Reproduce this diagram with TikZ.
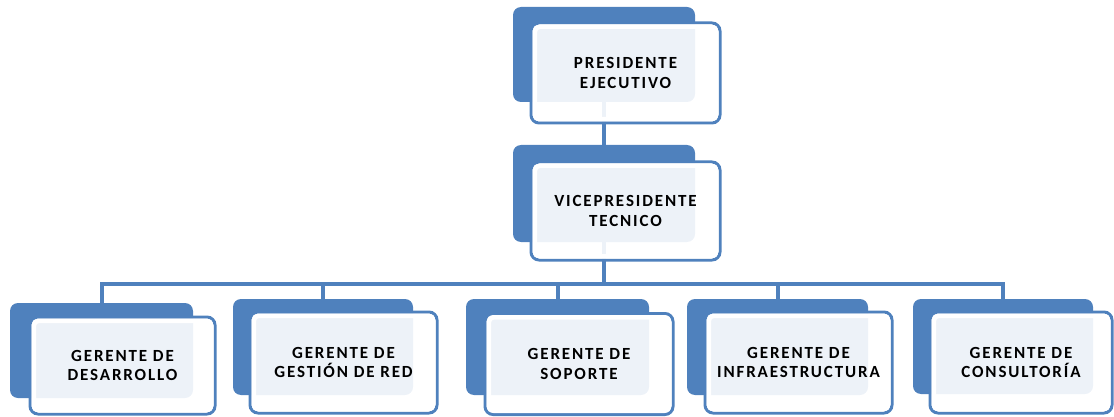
\documentclass[tikz,border=0pt]{standalone}
\usepackage{fontspec}
\setmainfont{Carlito}
\newfontfamily\lblfont[LetterSpace=11]{Carlito}
\definecolor{orgblue}{RGB}{79,129,189}
\tikzset{
  back/.style={fill=orgblue, draw=none, rounded corners=8pt, inner sep=0pt},
  front/.style={fill=white, fill opacity=0.9, text opacity=1, draw=orgblue, line width=3pt,
    rounded corners=8pt, inner sep=0pt, align=center,
    font=\lblfont\fontsize{17}{19.5}\selectfont\bfseries},
  rim/.style={draw=white, line width=4.5pt, rounded corners=5pt, inner sep=0pt},
  conn/.style={draw=orgblue, line width=4pt},
}
\newcommand{\orgbox}[6]{%
  \node[front, minimum width=#4pt, minimum height=#5pt] (#1) at (#2,#3) {#6};
  \node[rim, minimum width=#4pt-7.5pt, minimum height=#5pt-7.5pt] (#1rim) at (#2,#3) {};
}
\begin{document}
\begin{tikzpicture}[x=1pt,y=1pt]
\useasboundingbox (0,0) rectangle (1114,-417);
% back boxes
\node[back, minimum width=182pt, minimum height=95pt] (pB) at (604,-54.5) {};
\node[back, minimum width=182pt, minimum height=97pt] (vB) at (604,-193.5) {};
\node[back, minimum width=183pt, minimum height=95pt] (b1) at (101.5,-350.5) {};
\node[back, minimum width=180pt, minimum height=96pt] (b2) at (323,-347) {};
\node[back, minimum width=183pt, minimum height=96pt] (b3) at (557.5,-347) {};
\node[back, minimum width=181pt, minimum height=96pt] (b4) at (777.5,-347) {};
\node[back, minimum width=180pt, minimum height=95pt] (b5) at (1003,-346.5) {};
% connectors
\coordinate (bus) at (604,-284);
\draw[conn] (pB.south) -- (vB.north);
\draw[conn] (vB.south) -- (bus);
\draw[conn] (b1.north) |- (bus) -| (b5.north);
\draw[conn] (b2.north) -- (b2.north |- bus);
\draw[conn] (b3.north) -- (b3.north |- bus);
\draw[conn] (b4.north) -- (b4.north |- bus);
% front boxes
\orgbox{pF}{625.5}{-73}{189}{100}{PRESIDENTE\\EJECUTIVO}
\orgbox{vF}{625.5}{-211}{189}{98}{VICEPRESIDENTE\\TECNICO}
\orgbox{f1}{122.5}{-365.5}{185}{97}{GERENTE DE\\DESARROLLO}
\orgbox{f2}{343.5}{-362.5}{187}{101}{GERENTE DE\\GESTIÓN DE RED}
\orgbox{f3}{579}{-364}{188}{101}{GERENTE DE\\SOPORTE}
\orgbox{f4}{798.5}{-362.5}{187}{101}{GERENTE DE\\INFRAESTRUCTURA}
\orgbox{f5}{1021}{-362.5}{182}{101}{GERENTE DE\\CONSULTORÍA}
\end{tikzpicture}
\end{document}
